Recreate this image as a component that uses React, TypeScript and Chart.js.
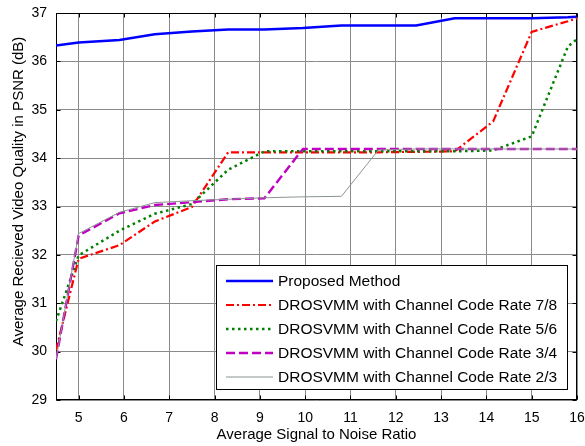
import React, { useEffect, useRef } from 'react';
import { Chart, registerables } from 'chart.js';

Chart.register(...registerables);

// ---- data ----
const xValues = [4.5, 5, 5.9, 6.68, 7.5, 8.3, 9.1, 9.95, 10.8, 11.62, 12.45, 13.3, 14.15, 15, 15.8, 16];
const proposed = [36.33, 36.39, 36.44, 36.56, 36.62, 36.66, 36.66, 36.69, 36.74, 36.74, 36.74, 36.89, 36.89, 36.89, 36.91, 36.92];
const rate78 = [30.03, 31.92, 32.2, 32.69, 32.99, 34.12, 34.12, 34.12, 34.12, 34.12, 34.13, 34.14, 34.76, 36.61, 36.83, 36.89];
const rate56 = [30.63, 31.99, 32.5, 32.85, 33.05, 33.76, 34.14, 34.14, 34.14, 34.14, 34.14, 34.14, 34.16, 34.45, 36.31, 36.46];
const rate34 = [29.84, 32.4, 32.86, 33.03, 33.09, 33.15, 33.17, 34.19, 34.19, 34.19, 34.19, 34.19, 34.19, 34.19, 34.19, 34.19];
const rate23 = [29.84, 32.44, 32.88, 33.08, 33.12, 33.15, 33.18, 33.2, 33.21, 34.17, 34.19, 34.19, 34.19, 34.19, 34.19, 34.19];

const seriesLabels = [
  'Proposed Method',
  'DROSVMM with Channel Code Rate 7/8',
  'DROSVMM with Channel Code Rate 5/6',
  'DROSVMM with Channel Code Rate 3/4',
  'DROSVMM with Channel Code Rate 2/3',
];
const xTitle = 'Average Signal to Noise Ratio';
const yTitle = 'Average Recieved Video Quality in PSNR (dB)';
const xMin = 4.5;
const xMax = 16;
const yMin = 29;
const yMax = 37;

const FONT = "'Liberation Sans', Arial, Helvetica, sans-serif";

const toPoints = (ys: number[]) => xValues.map((x, i) => ({ x, y: ys[i] }));

const framePlugin = {
  id: 'matlabFrame',
  beforeDatasetsDraw(chart: any) {
    const { ctx, chartArea: a, scales } = chart;
    const L = Math.round(a.left) + 0.5;
    const R = Math.round(a.right) - 0.5;
    const T = Math.round(a.top) + 0.5;
    const B = Math.round(a.bottom) - 0.5;
    ctx.save();
    ctx.strokeStyle = '#000';
    ctx.lineWidth = 1;
    ctx.strokeRect(L, T, R - L, B - T);
    const tl = 4;
    ctx.beginPath();
    for (const t of scales.x.ticks) {
      const px = Math.round(scales.x.getPixelForValue(t.value)) + 0.5;
      ctx.moveTo(px, B); ctx.lineTo(px, B - tl);
      ctx.moveTo(px, T); ctx.lineTo(px, T + tl);
    }
    for (const t of scales.y.ticks) {
      const py = Math.round(scales.y.getPixelForValue(t.value)) + 0.5;
      ctx.moveTo(L, py); ctx.lineTo(L + tl, py);
      ctx.moveTo(R, py); ctx.lineTo(R - tl, py);
    }
    ctx.stroke();
    ctx.restore();
  },
  afterDraw(chart: any) {
    const { ctx, chartArea: a } = chart;
    ctx.save();
    // y title
    ctx.fillStyle = '#000';
    ctx.font = `15px ${FONT}`;
    ctx.textAlign = 'center';
    ctx.textBaseline = 'middle';
    ctx.translate(19, (a.top + a.bottom) / 2 - 15);
    ctx.rotate(-Math.PI / 2);
    ctx.fillText(yTitle, 0, 0);
    ctx.restore();

    // legend
    const w = 352;
    const h = 125;
    const right = Math.round(a.right) - 9;
    const bottom = Math.round(a.bottom) - 10;
    const left = right - w;
    const top = bottom - h;
    ctx.save();
    ctx.fillStyle = '#fff';
    ctx.fillRect(left, top, w, h);
    ctx.strokeStyle = '#000';
    ctx.lineWidth = 1;
    ctx.strokeRect(left + 0.5, top + 0.5, w - 1, h - 1);
    ctx.font = `15.5px ${FONT}`;
    ctx.textAlign = 'left';
    ctx.textBaseline = 'middle';
    chart.data.datasets.forEach((ds: any, i: number) => {
      const y = top + 16 + i * 24;
      ctx.save();
      ctx.strokeStyle = ds.borderColor;
      ctx.lineWidth = ds.borderWidth;
      ctx.setLineDash(ds.borderDash || []);
      ctx.beginPath();
      ctx.moveTo(left + 10, y);
      ctx.lineTo(left + 57, y);
      ctx.stroke();
      ctx.restore();
      ctx.fillStyle = '#000';
      ctx.fillText(ds.label, left + 62, y + 1);
    });
    ctx.restore();
  },
};

export default function App() {
  const ref = useRef<HTMLCanvasElement | null>(null);

  useEffect(() => {
    if (!ref.current) return;
    const chart = new Chart(ref.current, {
      type: 'line',
      data: {
        datasets: [
          {
            label: seriesLabels[0],
            data: toPoints(proposed),
            borderColor: '#0000ff',
            borderWidth: 2.5,
            pointRadius: 0,
            order: 5,
          },
          {
            label: seriesLabels[1],
            data: toPoints(rate78),
            borderColor: '#ff0000',
            borderWidth: 2.2,
            borderDash: [8, 3, 2, 3],
            pointRadius: 0,
            order: 4,
          },
          {
            label: seriesLabels[2],
            data: toPoints(rate56),
            borderColor: '#008000',
            borderWidth: 2.5,
            borderDash: [2.5, 3.5],
            pointRadius: 0,
            order: 3,
          },
          {
            label: seriesLabels[3],
            data: toPoints(rate34),
            borderColor: '#c000c0',
            borderWidth: 2.4,
            borderDash: [9, 4],
            pointRadius: 0,
            order: 2,
          },
          {
            label: seriesLabels[4],
            data: toPoints(rate23),
            borderColor: '#8a9593',
            borderWidth: 1,
            pointRadius: 0,
            order: 1,
          },
        ],
      },
      options: {
        responsive: false,
        animation: false,
        devicePixelRatio: 1,
        layout: { padding: { top: 13, right: 8, left: 0, bottom: 0 } },
        plugins: {
          legend: { display: false },
          tooltip: { enabled: false },
        },
        elements: { line: { tension: 0, fill: false } },
        scales: {
          x: {
            type: 'linear',
            min: xMin,
            max: xMax,
            border: { display: false },
            grid: { color: '#8a8a8a', lineWidth: 1, drawTicks: false },
            ticks: {
              stepSize: 1,
              includeBounds: false,
              padding: 10,
              color: '#000',
              font: { family: FONT, size: 14 },
              maxRotation: 0,
            },
            title: {
              display: true,
              text: xTitle,
              color: '#000',
              font: { family: FONT, size: 15 },
              padding: { top: 0, bottom: 2 },
            },
            afterFit: (s: any) => {
              s.height = 46;
              s.paddingLeft = 0;
              s.paddingRight = 0;
            },
          },
          y: {
            type: 'linear',
            min: yMin,
            max: yMax,
            border: { display: false },
            grid: { color: '#8a8a8a', lineWidth: 1, drawTicks: false },
            ticks: {
              stepSize: 1,
              padding: 9,
              color: '#000',
              font: { family: FONT, size: 14 },
            },
            afterFit: (s: any) => {
              s.width = 56;
              s.paddingTop = 0;
              s.paddingBottom = 0;
            },
          },
        },
      },
      plugins: [framePlugin],
    } as any);
    return () => chart.destroy();
  }, []);

  return (
    <div style={{ position: 'absolute', left: 0, top: 0, width: 585, height: 446, background: '#fff' }}>
      <canvas ref={ref} width={585} height={446} style={{ display: 'block', width: 585, height: 446 }} />
    </div>
  );
}
